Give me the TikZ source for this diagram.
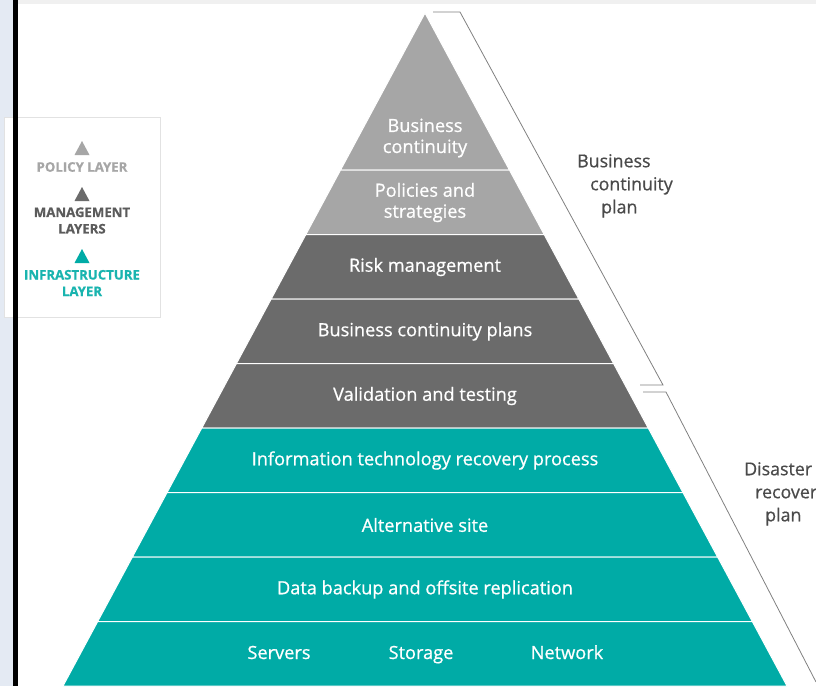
\documentclass[tikz,border=0pt]{standalone}
\usepackage{fontspec}
\setmainfont{Open Sans}[FakeBold=0.7]
\usetikzlibrary{
  calc,
  positioning
}
\definecolor{policygray}{HTML}{A6A6A6}
\definecolor{managegray}{HTML}{6B6B6B}
\definecolor{infrateal}{HTML}{00ABA6}
\definecolor{labelgray}{HTML}{4A4A4A}
\definecolor{sideblue}{HTML}{E4EAF3}
\definecolor{framegray}{HTML}{E2E2E2}
\tikzset{
  % For the horizontal layers of the pyramid.
  layer/.style={
    fill=#1,
    draw=white,
    line width=1pt},
%
  % For the texts written on the layers.
  layer text/.style={
    text=white,
    inner sep=0pt,
    align=center,
    font=\fontsize{18.2pt}{21pt}\selectfont},
%
  % For the small triangles of the legend.
  legend mark/.style={
    fill=#1},
%
  % For the texts of the legend.
  legend text/.style={
    text=#1,
    inner sep=0pt,
    align=center,
    font=\fontsize{13.2pt}{16.5pt}\selectfont\bfseries},
%
  % For the thin brackets on the right.
  bracket/.style={
    draw=gray,
    line width=0.8pt},
%
  % For the names of the plans.
  plan text/.style={
    text=labelgray,
    inner sep=0pt,
    anchor=north west,
    align=left,
    font=\fontsize{17.8pt}{23pt}\selectfont}
}

\begin{document}
\begin{tikzpicture}[x=1pt, y=-1pt]
  \useasboundingbox (0,0) rectangle (816,686);

  % Frame of the page.
  \fill[gray!12] (0,0) rectangle (816,4);
  \fill[sideblue] (0,0) rectangle (13,686);

  % Legend.
  \draw[framegray, fill=white] (4,117) rectangle (160,317);
  \fill[black] (13,0) rectangle (18,686);
  \fill[legend mark=policygray] (82,141) -- (89.5,155) -- (74.5,155) -- cycle;
  \node[legend text=policygray] (policy) at (82,167) {POLICY LAYER};
  \fill[legend mark=managegray] (82,187) -- (89.5,201) -- (74.5,201) -- cycle;
  \node[legend text=managegray!85!black] (management) at (82,220.5) {MANAGEMENT\\LAYERS};
  \fill[legend mark=infrateal] (82,249) -- (89.5,263) -- (74.5,263) -- cycle;
  \node[legend text=infrateal!90!white] (infrastructure) at (82,283) {INFRASTRUCTURE\\LAYER};

  % Pyramid.
  \coordinate (apex) at (425,13);
  \coordinate (bl) at (63,686);
  \coordinate (br) at (787,686);

  \foreach \top/\bot/\col/\ty/\txt
    [count=\i,
     evaluate=\top as \ta using (\top-13)/673,
     evaluate=\bot as \tb using (\bot-13)/673] in
    {13/170/policygray/138/{Business\\continuity},
     170/234.5/policygray/202.5/{Policies and\\strategies},
     234.5/299/managegray/267/{Risk management},
     299/363.5/managegray/331.5/{Business continuity plans},
     363.5/428/managegray/396/{Validation and testing},
     428/492.5/infrateal/460.5/{Information technology recovery process},
     492.5/557/infrateal/525/{Alternative site},
     557/621.5/infrateal/589.5/{Data backup and offsite replication},
     621.5/686/infrateal/654/{}}
    {\filldraw[layer=\col]
       ($(apex)!\ta!(bl)$) -- ($(apex)!\tb!(bl)$)
         -- ($(apex)!\tb!(br)$) -- ($(apex)!\ta!(br)$) -- cycle;
     \node[layer text] (layer\i) at (425,\ty) {\txt};
    }

  \node[layer text, anchor=base] (servers) at (279,659) {Servers};
  \node[layer text, anchor=base] (storage) at (421,659) {Storage};
  \node[layer text, anchor=base] (network) at (567,659) {Network};

  % Brackets of the two plans.
  \draw[bracket] (433,12) -- (460,12) -- (663,385) -- (640,385);
  \draw[bracket] (643,392) -- (666,392) -- (816,682);

  \node[plan text] (bcp) at (577,154)
    {Business\\\hspace{13pt}continuity\\\hspace{24pt}plan};
  \node[plan text] (drp) at (744,462)
    {Disaster\\\hspace{11pt}recovery\\\hspace{21pt}plan};
\end{tikzpicture}
\end{document}
